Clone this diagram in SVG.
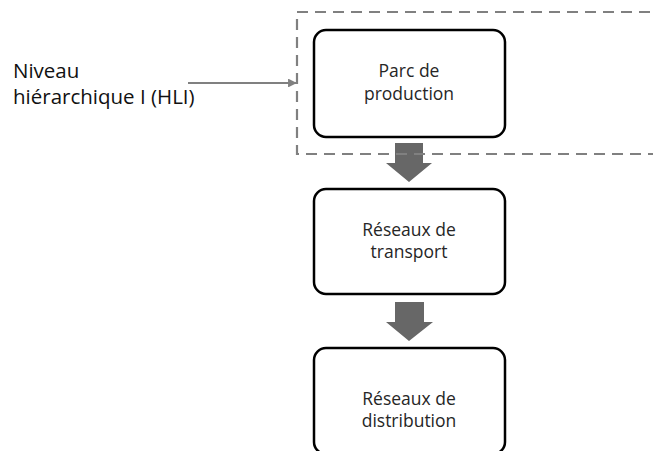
<svg xmlns="http://www.w3.org/2000/svg" width="653" height="451" viewBox="0 0 653 451">
<defs>
<style>
.box{fill:#fff;stroke:#000;stroke-width:2.5}
.t{font-family:"Open Sans","Liberation Sans",sans-serif;font-size:17.5px;fill:#262626;text-anchor:middle}
.lbl{font-family:"Open Sans","Liberation Sans",sans-serif;font-size:20.5px;fill:#111}
.fat{fill:#676767}
.dash{fill:none;stroke:#808080;stroke-width:2.2;stroke-dasharray:11 7}
.thin{stroke:#808080;stroke-width:2.2;fill:none}
</style>
<marker id="ah" viewBox="0 0 10 10" refX="9" refY="5" markerWidth="4" markerHeight="4" orient="auto">
<path d="M0,0 L10,5 L0,10 z" fill="#808080"/>
</marker>
</defs>
<rect width="653" height="451" fill="#fff"/>
<g id="connectors">
<path class="fat" d="M395,143 H423 V163 H432 L409,182 L386,163 H395 Z"/>
<path class="fat" d="M395,302 H424 V322 H433 L409,341 L386,322 H395 Z"/>
<line class="thin" x1="188" y1="83" x2="296" y2="83" marker-end="url(#ah)"/>
</g>
<g id="hli-group">
<rect class="dash" x="297" y="12" width="380" height="142"/>
</g>
<g id="label-hli">
<text class="lbl" x="13" y="78">Niveau</text>
<text class="lbl" x="13" y="104">hiérarchique I (HLI)</text>
</g>
<g id="node-production">
<rect class="box" x="314" y="30" width="191" height="107" rx="12"/>
<text class="t" x="409" y="77">Parc de</text>
<text class="t" x="409" y="100">production</text>
</g>
<g id="node-transport">
<rect class="box" x="314" y="189" width="191" height="105" rx="12"/>
<text class="t" x="409" y="236">Réseaux de</text>
<text class="t" x="409" y="258">transport</text>
</g>
<g id="node-distribution">
<rect class="box" x="314" y="348" width="191" height="106" rx="12"/>
<text class="t" x="409" y="405">Réseaux de</text>
<text class="t" x="409" y="427">distribution</text>
</g>
</svg>
